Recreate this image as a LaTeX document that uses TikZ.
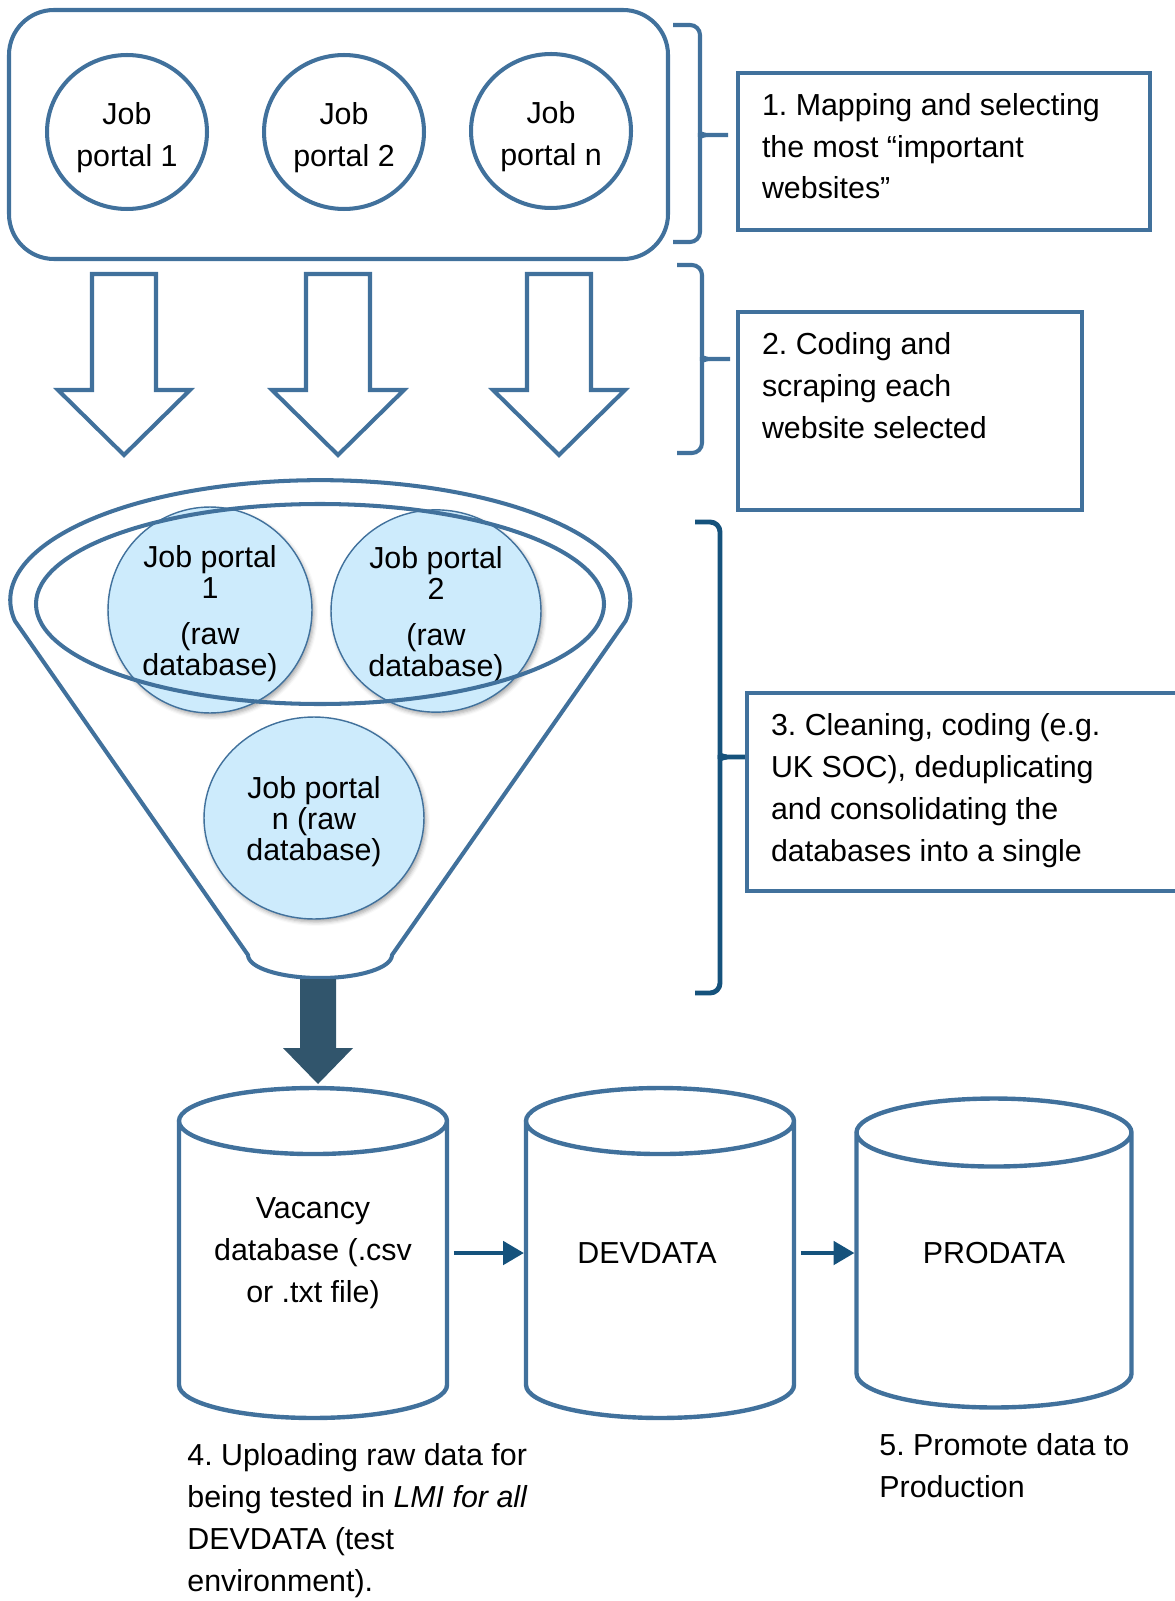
\documentclass[tikz,border=0pt]{standalone}
\usepackage{fontspec}
\setmainfont{Liberation Sans}
\frenchspacing
\usetikzlibrary{shapes.geometric,  % ellipses
           shadows.blur,           % ombre des bases brutes
           arrows.meta,
           positioning}
\definecolor{portblue}{RGB}{65,113,156}
\definecolor{deepblue}{RGB}{21,82,124}
\definecolor{outletgray}{RGB}{49,85,108}
\definecolor{rawfill}{RGB}{205,235,252}

\newcommand{\labelfont}{\fontsize{17.3}{23.9}\selectfont}
\newcommand{\rawfont}{\fontsize{17.3}{17.6}\selectfont}

\tikzset{
  portline/.style={draw=portblue,line width=2.3pt},
  stagebrace/.style={draw=deepblue,line width=2.8pt},
  portal/.style={ellipse,portline,minimum width=3.2cm,minimum height=3.08cm,
                 inner sep=0pt,align=center,font=\labelfont},
  rawdb/.style={ellipse,draw=portblue,line width=0.8pt,fill=rawfill,inner sep=0pt,
                align=center,font=\rawfont,
                blur shadow={shadow xshift=0.04cm,shadow yshift=-0.06cm,
                             shadow blur radius=0.08cm,shadow opacity=35}},
  stepbox/.style={rectangle,portline,inner xsep=0.48cm,inner ysep=0.4cm,
                  outer sep=0pt,anchor=north west,font=\labelfont},
  dbbody/.style={rectangle,inner sep=0pt,outer sep=0pt,align=center,font=\labelfont},
  dbline/.style={draw=portblue,line width=2.5pt},
  hollowarrow/.style={portline,fill=white},
  flowarrow/.style={draw=deepblue,line width=2.8pt,-{Triangle[length=0.42cm,width=0.46cm]},
                    shorten <=0.14cm,shorten >=0.04cm},
  note/.style={inner sep=0pt,anchor=north west,align=left,font=\labelfont}
}

% accolade : style, x bouts, x dos, x pointe, y haut, y milieu, y bas
\newcommand{\sidebrace}[7]{%
  \draw[#1,rounded corners=0.2cm] (#2,#5) -- (#3,#5) -- (#3,#6+8) [sharp corners]
    to[out=-90,in=180] (#3+7,#6) -- (#4,#6);
  \draw[#1,rounded corners=0.2cm] (#2,#7) -- (#3,#7) -- (#3,#6-8) [sharp corners]
    to[out=90,in=180] (#3+7,#6);}

% cylindre autour d'un noeud : nom, rayon x, rayon y
\newcommand{\database}[3]{%
  \draw[dbline] (#1.north west) -- (#1.south west) arc (180:360:#2 and #3)
    -- (#1.north east) arc (0:360:#2 and #3);}

\begin{document}
\begin{tikzpicture}[x=0.02cm,y=0.02cm]
\useasboundingbox (0,0) rectangle (1174,-1601);

% 1. portails
\draw[portline,rounded corners=0.9cm] (9,-10) rectangle (668,-259);
\node[portal] (portal1) at (127,-132) {\rule{0pt}{0.68cm}Job\\portal 1};
\node[portal] (portal2) at (344,-132) {\rule{0pt}{0.68cm}Job\\portal 2};
\node[portal] (portaln) at (551,-131) {\rule{0pt}{0.66cm}Job\\portal n};

% 2. scraping
\foreach \x in {124,338,559}
  \draw[hollowarrow] (\x-32,-274) -- (\x+32,-274) -- (\x+32,-390) -- (\x+66,-390)
    -- (\x,-455) -- (\x-66,-390) -- (\x-32,-390) -- cycle;

% 3. entonnoir
\draw[portline] (248,-955) -- (15,-621) arc (190:-10:310 and 120)
  -- (392,-955) arc (0:-180:72 and 23) -- cycle;
\node[rawdb,minimum width=4.08cm,minimum height=4.12cm] (raw1) at (210,-610)
  {\rule{0pt}{0.58cm}Job portal\\1\\[0.3cm](raw\\database)};
\node[rawdb,minimum width=4.2cm,minimum height=3.96cm] (raw2) at (436,-611)
  {\rule{0pt}{0.58cm}Job portal\\2\\[0.3cm](raw\\database)};
\node[rawdb,minimum width=4.4cm,minimum height=4.04cm] (rawn) at (314,-818)
  {\rule{0pt}{0.58cm}Job portal\\n (raw\\database)};
\draw[portline] (320,-604) ellipse (284 and 100);

\coordinate (outlet) at (318,-979);
\fill[outletgray] (outlet) ++(-18,0) -- ++(0,-69) -- ++(-17,0) -- ++(35,-36)
  -- ++(35,36) -- ++(-17,0) -- ++(0,69) -- cycle;

% 4. et 5. bases
\node[dbbody,minimum width=5.36cm,minimum height=5.28cm] (vacdb) at (313,-1253)
  {Vacancy\\database (.csv\\or .txt file)};
\node[dbbody,minimum width=5.36cm,minimum height=5.28cm] (devdb) at (660,-1253)
  {DEVDATA\hspace*{0.52cm}};
\node[dbbody,minimum width=5.5cm,minimum height=4.82cm] (proddb) at (994,-1253)
  {PRODATA};
\database{vacdb}{134}{33}
\database{devdb}{134}{33}
\database{proddb}{137.5}{34}
\draw[flowarrow] (vacdb.east) -- (devdb.west);
\draw[flowarrow] (devdb.east) -- (proddb.west);

% etapes
\sidebrace{portline}{673}{700}{728}{-25}{-135}{-242}
\sidebrace{portline}{677}{702}{730}{-265}{-359}{-453}
\sidebrace{stagebrace}{695}{720}{747}{-522}{-757}{-993}

\node[stepbox] (mapping) at (738,-73) {\parbox[c][2.34cm][t]{7.28cm}{\raggedright
  1. Mapping and selecting\\the most “important\\websites”}};
\node[stepbox] (scraping) at (738,-312) {\parbox[c][3.16cm][t]{5.92cm}{\raggedright
  2. Coding and\\scraping each\\website selected}};
\node[stepbox] (cleaning) at (747,-693) {\parbox[c][3.16cm][t]{8.0cm}{\raggedright
  3. Cleaning, coding (e.g.\\UK SOC), deduplicating\\and consolidating the\\databases into a single}};

\node[note] (upload) at (187,-1443)
  {4. Uploading raw data for\\being tested in \textit{LMI for all}\\DEVDATA (test\\environment).};
\node[note] (promote) at (879,-1433) {5. Promote data to\\Production};
\end{tikzpicture}
\end{document}
